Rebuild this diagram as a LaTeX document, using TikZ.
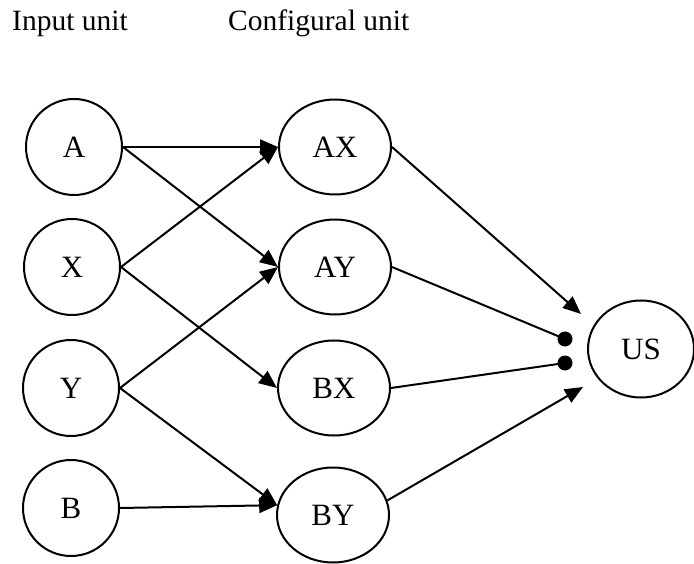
\documentclass[tikz,border=0pt]{standalone}
\usepackage{fontspec}
\setmainfont{Liberation Serif}
\usetikzlibrary{shapes.geometric,arrows.meta}
\begin{document}
\begin{tikzpicture}[x=1pt,y=-1pt,
  every node/.style={font=\fontsize{31}{36}\selectfont},
  header/.style={anchor=base west,inner sep=0pt,font=\fontsize{29.5}{34}\selectfont},
  inunit/.style={draw,circle,line width=2pt,minimum size=96pt,inner sep=0pt},
  cfunit/.style={draw,ellipse,line width=2pt,minimum width=112pt,minimum height=95pt,inner sep=0pt},
  usunit/.style={draw,ellipse,line width=2pt,minimum width=106pt,minimum height=97pt,inner sep=0pt},
  dotnode/.style={circle,fill=black,minimum size=15pt,inner sep=0pt},
  link/.style={line width=2pt,-{Triangle[length=18pt,width=15pt]}},
  plainlink/.style={line width=2pt}]
\useasboundingbox (0,0) rectangle (694,564);
\node[header] (h1) at (12,31) {Input unit};
\node[header] (h2) at (228,31) {Configural unit};
\node[inunit] (A) at (74,147) {A};
\node[inunit] (X) at (72,267) {X};
\node[inunit] (Y) at (71,388) {Y};
\node[inunit] (B) at (71,508) {B};
\node[cfunit] (AX) at (335,147) {AX};
\node[cfunit] (AY) at (335,267) {AY};
\node[cfunit] (BX) at (334,388) {BX};
\node[cfunit] (BY) at (333,515) {BY};
\node[usunit] (US) at (641,349) {US};
\node[dotnode] (d1) at (565,339) {};
\node[dotnode] (d2) at (565,363) {};
\coordinate (t1) at (581,314);
\coordinate (t2) at (583,387);
\draw[link] (A.east) -- (AX.west);
\draw[link] (A.east) -- (AY.west);
\draw[link] (X.east) -- (AX.west);
\draw[link] (X.east) -- (BX.west);
\draw[link] (Y.east) -- (AY.west);
\draw[link] (Y.east) -- (BY.170);
\draw[link] (B.east) -- (BY.170);
\draw[link] (AX.east) -- (t1);
\draw[plainlink] (AY.east) -- (d1.center);
\draw[plainlink] (BX.east) -- (d2.center);
\draw[link] (BY.15) -- (t2);
\end{tikzpicture}
\end{document}
